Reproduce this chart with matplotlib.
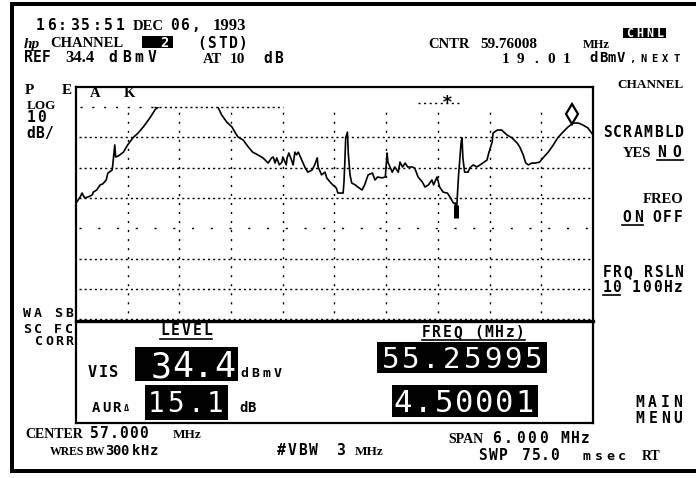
import matplotlib
matplotlib.use("Agg")
import matplotlib.pyplot as plt
from matplotlib.patches import Rectangle

# spectrum trace (MHz, dBmV); the carrier top runs off screen
freq_mhz = [
    54.01, 54.05, 54.07, 54.10, 54.14, 54.19, 54.20, 54.24, 54.28, 54.31,
    54.35, 54.37, 54.42, 54.43, 54.44, 54.45, 54.46, 54.49, 54.55, 54.60,
    54.66, 54.72, 54.78, 54.84, 54.88, 54.92, 55.03, 55.15, 55.26, 55.38,
    55.50, 55.64,
    55.69, 55.75, 55.81, 55.85, 55.88, 55.94, 56.00, 56.05, 56.11, 56.17,
    56.23, 56.27, 56.29, 56.31, 56.33, 56.36, 56.39, 56.40, 56.44, 56.45,
    56.47, 56.51, 56.52, 56.54, 56.56, 56.58, 56.62, 56.66, 56.69, 56.74,
    56.77, 56.80, 56.81, 56.85, 56.89, 56.91, 56.95, 56.98, 57.02, 57.04,
    57.10, 57.11, 57.12, 57.13, 57.15, 57.16, 57.18, 57.20, 57.24, 57.27,
    57.32, 57.35, 57.39, 57.44, 57.47, 57.50, 57.55, 57.59, 57.61, 57.62,
    57.67, 57.70, 57.74, 57.76, 57.79, 57.82, 57.85, 57.90, 57.93, 57.97,
    58.02, 58.05, 58.09, 58.13, 58.15, 58.19, 58.22, 58.26, 58.31, 58.34,
    58.38, 58.40, 58.41, 58.42, 58.44, 58.47, 58.48, 58.49, 58.51, 58.55,
    58.57, 58.61, 58.65, 58.69, 58.72, 58.77, 58.79, 58.83, 58.84, 58.89,
    58.94, 59.00, 59.06, 59.12, 59.15, 59.19, 59.22, 59.25, 59.29, 59.33,
    59.38, 59.42, 59.48, 59.54, 59.59, 59.65, 59.71, 59.77, 59.83, 59.88,
    59.94, 60.00,
]
level_dbmv = [
    3.1, 4.8, 6.0, 4.4, 4.7, 5.4, 6.3, 7.0, 8.7, 9.0,
    10.3, 12.6, 13.6, 16.2, 19.2, 21.9, 17.9, 18.2, 19.5, 21.9,
    24.2, 25.8, 27.8, 30.1, 31.8, 33.6, 36.0, 37.0, 37.4, 37.0,
    36.0, 34.8,
    31.8, 29.4, 27.8, 25.8, 24.5, 23.5, 21.2, 19.5, 18.6, 17.6,
    15.9, 17.6, 17.9, 15.9, 17.6, 15.3, 16.2, 17.9, 15.3, 17.6,
    19.2, 16.2, 15.3, 19.5, 18.6, 19.5, 16.9, 14.3, 12.9, 13.6,
    15.3, 17.6, 14.6, 12.0, 12.9, 11.0, 9.6, 8.7, 7.7, 6.0,
    6.0, 9.6, 16.2, 24.2, 26.1, 19.2, 12.0, 9.3, 8.7, 8.0,
    7.0, 8.7, 12.0, 12.6, 10.3, 11.3, 11.0, 11.3, 19.2, 16.2,
    12.9, 14.6, 12.9, 16.2, 14.6, 15.9, 14.6, 14.6, 14.3, 11.3,
    9.6, 8.0, 8.7, 10.3, 8.7, 11.3, 8.0, 6.3, 6.0, 4.7,
    2.7, 2.7, -1.2, 2.1, 12.0, 22.9, 24.2, 17.6, 12.9, 12.9,
    14.3, 15.3, 14.6, 15.3, 15.9, 16.9, 19.2, 22.9, 25.8, 26.8,
    26.8, 25.2, 24.2, 22.5, 21.2, 18.6, 15.9, 15.3, 15.9, 15.9,
    16.2, 17.6, 19.5, 21.9, 24.2, 26.1, 27.8, 29.1, 29.1, 28.5,
    27.5, 25.2,
]

ref_level = 34.4
db_per_div = 10
n_divs_y = 8
center_mhz = 57.0
span_mhz = 6.0

marker_freq, marker_level = 59.76, 32.1      # open diamond
star_freq, star_level = 58.31, 35.7          # '*'
delta_freq, delta_top, delta_bottom = 58.41, 2.1, -2.2

MONO = "DejaVu Sans Mono"
SERIF = "Liberation Serif"

W, H = 696, 478
fig = plt.figure(figsize=(W / 100, H / 100), dpi=100)
fig.patch.set_facecolor("white")

# graticule axes, placed in screen pixels
gl, gt, gw = 76, 107, 517
gh = 30.3 * n_divs_y
ax = fig.add_axes([gl / W, (H - gt - gh) / H, gw / W, gh / H], zorder=1)
f0 = center_mhz - span_mhz / 2
f1 = center_mhz + span_mhz / 2
ybot = ref_level - n_divs_y * db_per_div
ax.set_xlim(f0, f1)
ax.set_ylim(ybot, ref_level)
ax.axis("off")

for i in range(1, 10):
    ax.plot([f0 + i * span_mhz / 10] * 2, [ybot, ref_level], color="black",
            lw=1.0, ls=(0, (1.5, 5.0)))
for i in range(1, n_divs_y):
    y = ref_level - i * db_per_div
    ls = (0, (1.5, 12)) if i == 4 else (0, (1.5, 2.2))
    ax.plot([f0 + 0.03, f1], [y, y], color="black", lw=1.0, ls=ls)
ax.plot([f0 + 0.05, 54.9], [ref_level] * 2, color="black", lw=1.0,
        ls=(0, (1.5, 7)), clip_on=False)
ax.plot([54.9, 56.4], [ref_level] * 2, color="black", lw=1.0,
        ls=(0, (1.5, 2.2)), clip_on=False)
ax.plot([57.97, 58.45], [star_level] * 2, color="black", lw=1.0,
        ls=(0, (1.5, 2.5)), clip_on=False)

ax.plot(freq_mhz, level_dbmv, color="black", lw=1.2, clip_on=True)
ax.plot([delta_freq] * 2, [delta_top, delta_bottom], color="black", lw=3.6,
        solid_capstyle="butt")
ax.plot(marker_freq, marker_level, marker="d", ms=10, mfc="white",
        mec="black", mew=1.6, clip_on=False)
ax.text(star_freq, star_level, "*", ha="center", va="center", fontsize=13,
        fontweight="bold", family=MONO, clip_on=False)

# overlay in pixel coordinates for frame and annotations
ov = fig.add_axes([0, 0, 1, 1], zorder=2)
ov.set_xlim(0, W)
ov.set_ylim(H, 0)
ov.axis("off")
ov.patch.set_alpha(0)


def rect(x, y, w, h, fc="black", ec="none", lw=0):
    ov.add_patch(Rectangle((x, y), w, h, fc=fc, ec=ec, lw=lw))


def mono(x, y, s, pitch, size, color="black", weight="bold"):
    for i, ch in enumerate(s):
        if ch == " ":
            continue
        ov.text(x + (i + 0.4) * pitch, y, ch, ha="center", va="baseline",
                family=MONO, fontsize=size, color=color, fontweight=weight)


def serif(x, y, s, size, ha="left", style="normal"):
    ov.text(x, y, s, ha=ha, va="baseline", family=SERIF, fontweight="bold",
            fontsize=size, style=style)


def uline(x0, x1, y):
    ov.plot([x0, x1], [y, y], color="black", lw=1.2)


# outer frame
rect(10, 2, 686, 4)
rect(10, 2, 4, 471)
rect(10, 469, 686, 4)

# screen box and readout panel
rect(76, 321, 517, 102, fc="white")
ov.plot([76, 593], [87, 87], color="black", lw=1.6)
ov.plot([76, 76], [87, 423], color="black", lw=1.6)
ov.plot([593, 593], [87, 423], color="black", lw=1.6)
ov.plot([76, 593], [321, 321], color="black", lw=2.4)
ov.plot([76, 593], [423, 423], color="black", lw=1.6)

# header
mono(35, 30, "16:35:51", 11.5, 10.5)
serif(133, 30, "DEC", 10.5)
mono(170, 30, "06,", 10.7, 10.5)
serif(213, 30, "1993", 12)
serif(24, 48, "hp", 11, style="italic")
serif(50, 47, "CHANNEL", 10.5)
rect(142, 36, 31, 12)
mono(160, 47, "2", 10, 10, color="white")
mono(197, 48, "(STD)", 10.6, 10.5)
mono(25, 62, "REF", 8.9, 10.5)
serif(65, 62, "34.4", 12)
mono(108, 62, "dBmV", 13, 10.5)
serif(203, 63, "AT", 10.5)
serif(230, 63, "10", 11)
mono(263, 63, "dB", 11, 10.5)

serif(428, 47.5, "CNTR", 10.5)
serif(480, 47.5, "59.76008", 11)
serif(583, 47.5, "MHz", 9)
rect(623, 28, 43, 10)
mono(626, 37, "CHNL", 10, 8.5, color="white")
for i, ch in enumerate("19.01"):
    ov.text(505.5 + i * 15.2, 62.5, ch, ha="center", va="baseline",
            family=SERIF, fontweight="bold", fontsize=11)
mono(590, 62, "dBmV", 9.2, 10)
mono(628, 62, ",NEXT", 11, 7.5)
serif(617, 88, "CHANNEL", 9.5)

# left annotations
serif(25, 94, "P", 11)
serif(62, 94, "E", 11)
serif(90, 96.5, "A", 10.5)
serif(124, 96.5, "K", 10.5)
serif(27, 108.5, "LOG", 9.5)
mono(27, 122, "10", 10, 10.5)
mono(27, 138, "dB/", 9, 10.5)
mono(23, 317, "WA SB", 10.4, 9.5)
mono(23, 333, "SC FC", 10.4, 9.5)
mono(35, 345, "CORR", 10, 9.5)

# right softkeys
mono(603, 137, "SCRAMBLD", 10.26, 10.5)
serif(623, 157, "YES", 10.5)
mono(656, 157, "NO", 15, 10.5)
uline(657, 683, 160)
serif(683, 203, "FREO", 10.5, ha="right")
mono(622, 222, "ON", 11.7, 10.5)
uline(622, 643, 225)
mono(652, 222, "OFF", 10.7, 10.5)
mono(603, 277, "FRQ RSLN", 10.26, 10.5)
mono(603, 292, "10", 9.4, 10.5)
uline(603, 620, 295)
mono(632, 292, "100Hz", 10.6, 10.5)
mono(635, 407, "MAIN", 12.6, 10.5)
mono(635, 423, "MENU", 12.6, 10.5)

# readout panel
mono(160, 335, "LEVEL", 10.8, 10.5)
uline(160, 212, 338.5)
mono(422, 337, "FREQ (MHz)", 10.5, 10.5)
uline(422, 525, 340)
mono(88, 377, "VIS", 10.7, 11)
rect(135, 347, 103, 34)
mono(153, 377, "34.4", 21, 25, color="white", weight="normal")
mono(240, 377, "dBmV", 11, 9.5)
mono(92, 412, "AUR", 10, 10)
ov.text(126, 411, "\u0394", ha="center", va="baseline", family=MONO,
        fontsize=6, fontweight="bold")
rect(145, 385, 83, 35)
mono(148, 412, "15.1", 19.7, 20, color="white", weight="normal")
mono(240, 412, "dB", 8, 10)
rect(377, 342, 170, 31)
mono(382, 368, "55.25995", 20.5, 21, color="white", weight="normal")
rect(392, 385, 146, 32)
mono(395, 412, "4.50001", 20.3, 22, color="white", weight="normal")

# footer
serif(25, 438, "CENTER", 10)
mono(90, 438, "57.000", 10, 10.5)
serif(173, 438, "MHz", 9.5)
serif(50, 455, "WRES", 8.5)
serif(86, 455, "BW", 8.5)
mono(106, 455, "300", 7.5, 10)
mono(132, 455, "kHz", 9, 10)
mono(277, 455, "#VBW", 10.8, 10.5)
mono(336, 455, "3", 10, 10.5)
serif(355, 455, "MHz", 9.5)
serif(448, 443, "SPAN", 10)
mono(492, 443, "6.000", 11.7, 10.5)
mono(560, 443, "MHz", 10.7, 10.5)
mono(478, 460, "SWP", 10.7, 10.5)
mono(523, 460, "75.0", 9.2, 10.5)
mono(582, 460, "msec", 11.8, 9.5)
serif(642, 460, "RT", 10)

fig.savefig("out.png", dpi=100)
